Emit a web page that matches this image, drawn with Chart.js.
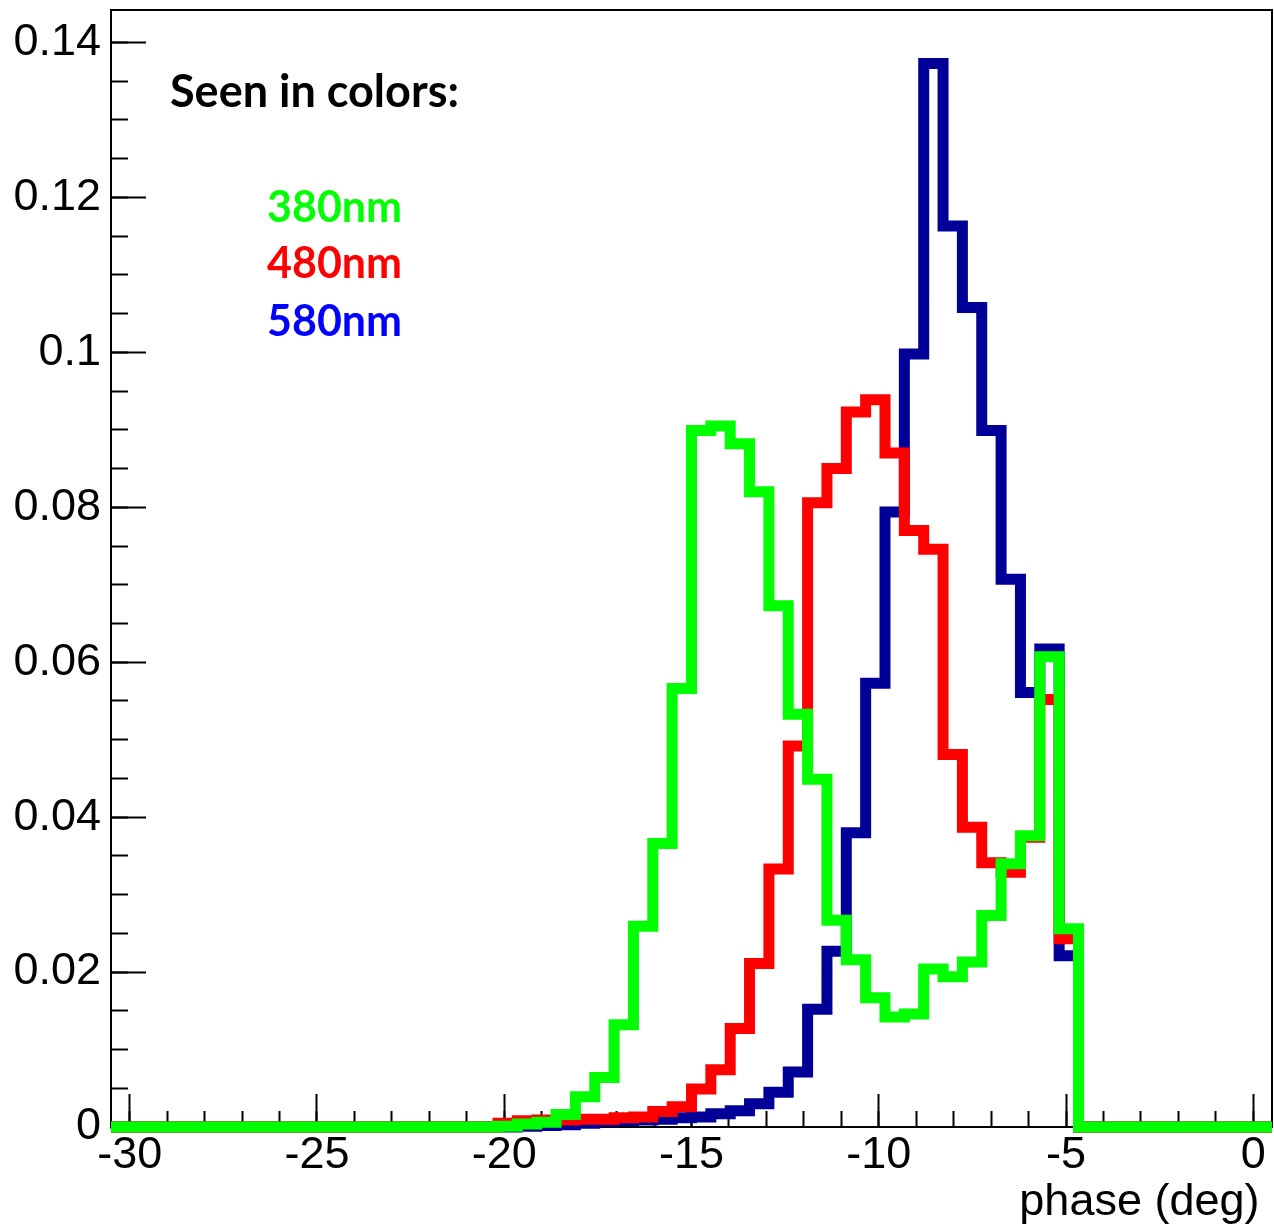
<!DOCTYPE html>
<html>
<head>
<meta charset="utf-8">
<title>phase (deg)</title>
<script src="https://cdn.jsdelivr.net/npm/chart.js"></script>
<style>
    html, body { margin: 0; padding: 0; background: #fff; }
    canvas { display: block; }
</style>
</head>
<body>
<canvas id="phase-target" width="1274" height="1231"></canvas>
<script>
// histogram binning: 60 bins between -30.5 and 0.5 deg
const binLow = -30.5;
const binHigh = 0.5;
const nBins = 60;

// normalised counts per bin
const green380 = [
    0, 0, 0, 0, 0, 0, 0, 0, 0, 0,
    0, 0, 0, 0, 0, 0, 0, 0, 0, 0,
    0.0001, 0.0004, 0.0006, 0.0016, 0.0039, 0.0064, 0.0132, 0.0259, 0.0366, 0.0566,
    0.0899, 0.0905, 0.0882, 0.0820, 0.0673, 0.0533, 0.0449, 0.0267, 0.0216, 0.0167,
    0.0142, 0.0146, 0.0204, 0.0194, 0.0213, 0.0273, 0.0340, 0.0376, 0.0607, 0.0256,
    0, 0, 0, 0, 0, 0, 0, 0, 0, 0,
];
const red480 = [
    0, 0, 0, 0, 0, 0, 0, 0, 0, 0,
    0, 0, 0, 0, 0, 0, 0, 0, 0, 0,
    0.0005, 0.0008, 0.0009, 0.0009, 0.0010, 0.0010, 0.0012, 0.0013, 0.0020, 0.0026,
    0.0049, 0.0074, 0.0127, 0.0211, 0.0333, 0.0492, 0.0806, 0.0850, 0.0923, 0.0939,
    0.0870, 0.0770, 0.0746, 0.0481, 0.0387, 0.0341, 0.0329, 0.0374, 0.0552, 0.0243,
    0, 0, 0, 0, 0, 0, 0, 0, 0, 0,
];
const blue580 = [
    0, 0, 0, 0, 0, 0, 0, 0, 0, 0,
    0, 0, 0, 0, 0, 0, 0, 0, 0, 0,
    0, 0.0001, 0.0002, 0.0003, 0.0005, 0.0007, 0.0008, 0.0009, 0.0010, 0.0012,
    0.0013, 0.0017, 0.0021, 0.0030, 0.0045, 0.0071, 0.0152, 0.0227, 0.0380, 0.0573,
    0.0794, 0.0998, 0.1373, 0.1163, 0.1058, 0.0899, 0.0707, 0.0561, 0.0617, 0.0221,
    0, 0, 0, 0, 0, 0, 0, 0, 0, 0,
];

// axis ticks
const xTickLabels = [-30, -25, -20, -15, -10, -5, 0];
const yTickLabels = [0, 0.02, 0.04, 0.06, 0.08, 0.1, 0.12, 0.14];
const xMinorStep = 1;
const yMinorStep = 0.005;
const yMax = 0.1442;

const legendTitle = 'Seen in colors:';
const axisTitle = 'phase (deg)';

const labelFont = { family: "'Liberation Sans', Arial, sans-serif", size: 45 };

// left edge of every bin plus the closing edge, for a stepped outline
function histPoints(values) {
    const w = (binHigh - binLow) / nBins;
    const pts = values.map((v, i) => ({ x: binLow + i * w, y: v }));
    pts.push({ x: binHigh, y: values[values.length - 1] });
    return pts;
}

function minorTicks(first, last, step) {
    const out = [];
    const n = Math.round((last - first) / step);
    for (let i = 0; i <= n; i++) out.push(+(first + i * step).toFixed(4));
    return out;
}

function setTicks(values) {
    return (scale) => { scale.ticks = values.map((v) => ({ value: v })); };
}

function fixSize(key, size) {
    return (scale) => {
        scale[key] = size;
        scale.paddingLeft = scale.paddingRight = scale.paddingTop = scale.paddingBottom = 0;
    };
}

function histo(label, values, color, order) {
    return {
        label: label,
        data: histPoints(values),
        borderColor: color,
        backgroundColor: color,
        borderWidth: 11,
        stepped: true,
        pointRadius: 0,
        fill: false,
        clip: false,
        order: order,
        borderJoinStyle: 'miter',
        borderCapStyle: 'butt',
    };
}

const series = [
    histo('380nm', green380, 'rgb(0, 255, 0)', 0),
    histo('480nm', red480, 'rgb(255, 0, 0)', 1),
    histo('580nm', blue580, 'rgb(0, 0, 153)', 2),
];
const legendColors = ['rgb(0, 255, 0)', 'rgb(255, 0, 0)', 'rgb(0, 0, 255)'];

const frameAndText = {
    id: 'frameAndText',
    beforeDatasetsDraw(chart) {
        const { ctx, chartArea: a } = chart;
        ctx.save();
        ctx.strokeStyle = '#000';
        ctx.lineWidth = 2;
        ctx.strokeRect(a.left, a.top, a.right - a.left, a.bottom - a.top);
        ctx.restore();
    },
    afterDraw(chart) {
        const { ctx, chartArea: a } = chart;
        ctx.save();
        ctx.textAlign = 'left';
        ctx.textBaseline = 'alphabetic';
        ctx.fillStyle = '#000';
        ctx.font = "bold 45px Lato, 'Open Sans', sans-serif";
        ctx.fillText(legendTitle, a.left + 59, a.top + 97);
        ctx.font = "bold 43px Lato, 'Open Sans', sans-serif";
        const rows = [212, 268, 326];
        series.forEach((ds, i) => {
            ctx.fillStyle = legendColors[i];
            ctx.fillText(ds.label, a.left + 156, a.top + rows[i]);
        });
        ctx.restore();
    },
};

const target = document.getElementById('phase-target');
const content = new Chart(target, {
    type: 'line',
    data: { datasets: series },
    plugins: [frameAndText],
    options: {
        responsive: false,
        animation: false,
        layout: { padding: { top: 10, right: 2, bottom: 0, left: 0 }, autoPadding: false },
        plugins: {
            legend: { display: false },
            tooltip: { enabled: false },
        },
        scales: {
            x: {
                type: 'linear',
                position: 'bottom',
                weight: 1,
                min: binLow,
                max: binHigh,
                afterBuildTicks: setTicks(xTickLabels),
                afterFit: fixSize('height', 104),
                ticks: {
                    autoSkip: false,
                    maxRotation: 0,
                    padding: 35,
                    color: '#000',
                    font: labelFont,
                    callback: (v) => String(v),
                },
                grid: { drawOnChartArea: false, tickLength: -33, tickWidth: 2, tickColor: '#000' },
                border: { display: true, color: '#000', width: 2 },
                title: {
                    display: true,
                    text: axisTitle + ' ',
                    align: 'end',
                    color: '#000',
                    font: labelFont,
                    padding: { top: 0, bottom: 1 },
                },
            },
            xMinor: {
                type: 'linear',
                position: 'bottom',
                weight: 0,
                min: binLow,
                max: binHigh,
                afterBuildTicks: setTicks(minorTicks(xTickLabels[0], xTickLabels[xTickLabels.length - 1], xMinorStep)),
                afterFit: fixSize('height', 0),
                ticks: { display: false, autoSkip: false },
                grid: { drawOnChartArea: false, tickLength: -16, tickWidth: 2, tickColor: '#000' },
                border: { display: false },
            },
            y: {
                type: 'linear',
                position: 'left',
                weight: 1,
                min: 0,
                max: yMax,
                afterBuildTicks: setTicks(yTickLabels),
                afterFit: fixSize('width', 111),
                ticks: {
                    autoSkip: false,
                    padding: 45,
                    color: '#000',
                    font: labelFont,
                    callback: (v) => String(+v.toFixed(4)),
                },
                grid: { drawOnChartArea: false, tickLength: -35, tickWidth: 2, tickColor: '#000' },
                border: { display: true, color: '#000', width: 2 },
            },
            yMinor: {
                type: 'linear',
                position: 'left',
                weight: 0,
                min: 0,
                max: yMax,
                afterBuildTicks: setTicks(minorTicks(0, yTickLabels[yTickLabels.length - 1], yMinorStep)),
                afterFit: fixSize('width', 0),
                ticks: { display: false, autoSkip: false },
                grid: { drawOnChartArea: false, tickLength: -17, tickWidth: 2, tickColor: '#000' },
                border: { display: false },
            },
        },
    },
});
</script>
</body>
</html>
